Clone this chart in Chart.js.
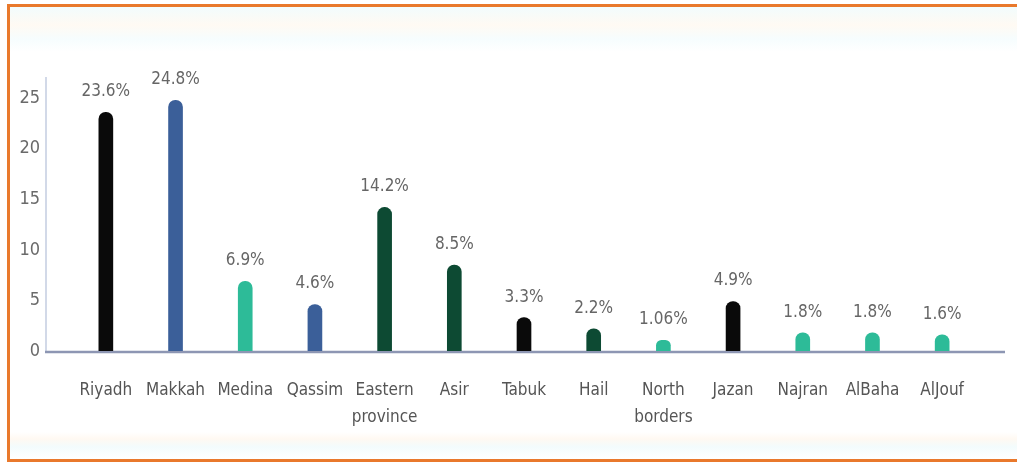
<!DOCTYPE html>
<html>
<head>
<meta charset="utf-8">
<script src="https://cdn.jsdelivr.net/npm/chart.js@4.4.1/dist/chart.umd.min.js"></script>
<style>
  body { margin: 0; background: #fff; }
  #frame {
    position: absolute; left: 7px; top: 4px; width: 1010px; height: 458px;
    box-sizing: border-box;
    border-top: 3px solid #e9792c; border-left: 3px solid #e9792c; border-bottom: 3px solid #e9792c;
    background: linear-gradient(to bottom, #f2fcfd 0px, #fffaf3 18px, #f6fdfe 32px, #ffffff 45px, #ffffff 425px, #fff9f2 432px, #f3fcfd 440px, #ffffff 452px);
  }
  canvas { position: absolute; left: 0; top: 0; }
</style>
</head>
<body>
<div id="frame"></div>
<canvas id="regionChart" width="1017" height="464"></canvas>
<script>
document.addEventListener("DOMContentLoaded", function() {
    // Regions (two-line names are given as arrays)
    var regions = ['Riyadh', 'Makkah', 'Medina', 'Qassim', ['Eastern', 'province'], 'Asir', 'Tabuk',
                   'Hail', ['North', 'borders'], 'Jazan', 'Najran', 'AlBaha', 'AlJouf'];
    // Share of each region, in percent
    var shares = [23.6, 24.8, 6.9, 4.6, 14.2, 8.5, 3.3, 2.2, 1.06, 4.9, 1.8, 1.8, 1.6];
    // Y axis tick values
    var yTicks = [0, 5, 10, 15, 20, 25];

    var BLACK = '#0a0a0a', BLUE = '#3b5f99', TEAL = '#2dbb98', DARK_GREEN = '#0d4a33';
    var barColors = [BLACK, BLUE, TEAL, BLUE, DARK_GREEN, DARK_GREEN, BLACK,
                     DARK_GREEN, TEAL, BLACK, TEAL, TEAL, TEAL];

    var FONT = "'DejaVu Sans Condensed', 'Liberation Sans Narrow', 'DejaVu Sans', sans-serif";

    // axis lines drawn a little past the plot area, under the bars
    var axisLines = {
        id: 'axisLines',
        beforeDatasetsDraw: function(chart) {
            var a = chart.chartArea, c = chart.ctx;
            c.save();
            c.strokeStyle = '#c3cde0';
            c.lineWidth = 1.5;
            c.beginPath();
            c.moveTo(a.left - 25, a.top - 1);
            c.lineTo(a.left - 25, a.bottom + 1);
            c.stroke();
            c.strokeStyle = '#8d96b3';
            c.lineWidth = 2.5;
            c.beginPath();
            c.moveTo(a.left - 26, a.bottom + 1);
            c.lineTo(a.right + 28, a.bottom + 1);
            c.stroke();
            c.restore();
        }
    };

    // percentage above every bar
    var shareLabels = {
        id: 'shareLabels',
        afterDatasetsDraw: function(chart) {
            var c = chart.ctx;
            var bars = chart.getDatasetMeta(0).data;
            c.save();
            c.fillStyle = '#666666';
            c.font = '17px ' + FONT;
            c.textAlign = 'center';
            c.textBaseline = 'bottom';
            bars.forEach(function(bar, i) {
                c.fillText(shares[i] + '%', bar.x, bar.y - 12);
            });
            c.restore();
        }
    };

    var ctx = document.getElementById('regionChart').getContext('2d');
    new Chart(ctx, {
        type: 'bar',
        data: {
            labels: regions,
            datasets: [{
                data: shares,
                backgroundColor: barColors,
                barThickness: 14,
                borderRadius: { topLeft: 7, topRight: 7, bottomLeft: 0, bottomRight: 0 },
                borderSkipped: false
            }]
        },
        options: {
            responsive: false,
            animation: false,
            layout: { padding: { left: 0, right: 40, top: 78, bottom: 0 } },
            plugins: {
                legend: { display: false },
                tooltip: { enabled: false }
            },
            scales: {
                x: {
                    grid: { display: false },
                    border: { display: false },
                    ticks: {
                        color: '#555555',
                        font: { family: FONT, size: 17, lineHeight: 1.6 },
                        padding: 18,
                        maxRotation: 0,
                        autoSkip: false
                    },
                    afterFit: function(scale) { scale.height = 113; }
                },
                y: {
                    min: 0,
                    max: 27,
                    grid: { display: false },
                    border: { display: false },
                    afterBuildTicks: function(scale) {
                        scale.ticks = yTicks.map(function(v) { return { value: v }; });
                    },
                    ticks: {
                        color: '#6a6a6a',
                        font: { family: FONT, size: 18 },
                        padding: 23
                    },
                    afterFit: function(scale) { scale.width = 71; }
                }
            }
        },
        plugins: [axisLines, shareLabels]
    });
});
</script>
</body>
</html>
